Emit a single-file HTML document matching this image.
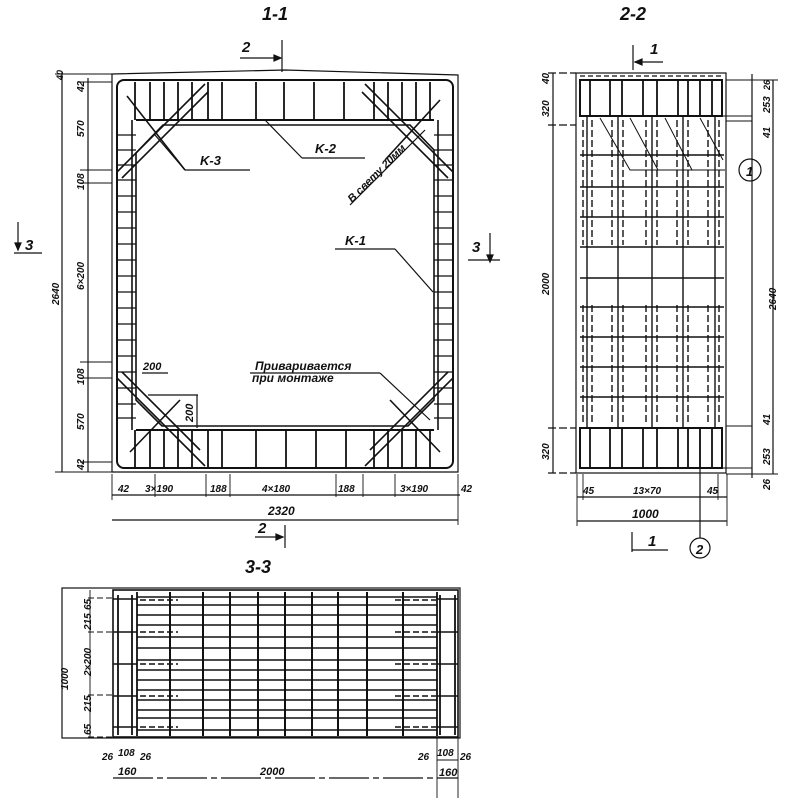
<!DOCTYPE html>
<html><head><meta charset="utf-8"><style>
html,body{margin:0;padding:0;background:#fff;}
svg{display:block;}
text{font-family:"Liberation Sans",sans-serif;font-style:italic;font-weight:bold;fill:#111;}
</style></head><body>
<svg width="800" height="800" viewBox="0 0 800 800" xmlns="http://www.w3.org/2000/svg">
<g stroke="#111" fill="none" stroke-width="1.2">
<!-- ===== Section 1-1 ===== -->
<text x="262" y="20" font-size="18" stroke="none">1-1</text>
<text x="242" y="52" font-size="15" stroke="none">2</text>
<line x1="240" y1="58" x2="280" y2="58"/><path d="M274 55 L281 58 L274 61Z" fill="#111"/>
<line x1="282" y1="40" x2="282" y2="72"/>
<!-- outer frame -->
<path d="M112 74 L285 70 L458 75 L458 472 L112 472 Z"/>
<rect x="117" y="80" width="336" height="388" rx="7" stroke-width="2"/>
<!-- opening -->
<path d="M163 125 L410 125 L434 150 L434 400 L408 426 L162 426 L136 400 L136 153 Z" stroke-width="1.6"/>
<line x1="136" y1="120" x2="434" y2="120" stroke-width="2"/>
<line x1="136" y1="430" x2="434" y2="430" stroke-width="2"/>
<line x1="132" y1="120" x2="132" y2="430" stroke-width="1.6"/>
<line x1="438" y1="120" x2="438" y2="430" stroke-width="1.6"/>
<!-- top beam stirrups -->
<g stroke-width="1.8">
<line x1="135" y1="82" x2="135" y2="120"/><line x1="150" y1="82" x2="150" y2="120"/><line x1="164" y1="82" x2="164" y2="120"/><line x1="178" y1="82" x2="178" y2="120"/><line x1="192" y1="82" x2="192" y2="120"/><line x1="208" y1="82" x2="208" y2="120"/><line x1="222" y1="82" x2="222" y2="120"/><line x1="256" y1="82" x2="256" y2="120"/><line x1="284" y1="82" x2="284" y2="120"/><line x1="314" y1="82" x2="314" y2="120"/><line x1="344" y1="82" x2="344" y2="120"/><line x1="374" y1="82" x2="374" y2="120"/><line x1="388" y1="82" x2="388" y2="120"/><line x1="402" y1="82" x2="402" y2="120"/><line x1="416" y1="82" x2="416" y2="120"/><line x1="430" y1="82" x2="430" y2="120"/>
<!-- bottom beam stirrups -->
<line x1="135" y1="430" x2="135" y2="468"/><line x1="150" y1="430" x2="150" y2="468"/><line x1="164" y1="430" x2="164" y2="468"/><line x1="178" y1="430" x2="178" y2="468"/><line x1="192" y1="430" x2="192" y2="468"/><line x1="208" y1="430" x2="208" y2="468"/><line x1="222" y1="430" x2="222" y2="468"/><line x1="256" y1="430" x2="256" y2="468"/><line x1="286" y1="430" x2="286" y2="468"/><line x1="316" y1="430" x2="316" y2="468"/><line x1="346" y1="430" x2="346" y2="468"/><line x1="374" y1="430" x2="374" y2="468"/><line x1="388" y1="430" x2="388" y2="468"/><line x1="402" y1="430" x2="402" y2="468"/><line x1="416" y1="430" x2="416" y2="468"/><line x1="430" y1="430" x2="430" y2="468"/>
</g>
<!-- column ties -->
<g stroke-width="1.2">
<path d="M117 135H136M117 150H136M117 165H136M117 180H136M117 196H136M117 212H136M117 228H136M117 244H136M117 260H136M117 276H136M117 292H136M117 308H136M117 324H136M117 340H136M117 356H136M117 372H136M117 388H136M117 404H136M117 418H136"/>
<path d="M434 135H453M434 150H453M434 165H453M434 180H453M434 196H453M434 212H453M434 228H453M434 244H453M434 260H453M434 276H453M434 292H453M434 308H453M434 324H453M434 340H453M434 356H453M434 372H453M434 388H453M434 404H453M434 418H453"/>
</g>
<!-- corner diagonals -->
<g stroke-width="1.6">
<line x1="117" y1="172" x2="205" y2="84"/><line x1="122" y1="178" x2="208" y2="92"/>
<line x1="127" y1="96" x2="185" y2="170"/>
<line x1="453" y1="172" x2="365" y2="84"/><line x1="448" y1="178" x2="362" y2="92"/>
<line x1="440" y1="100" x2="385" y2="160"/>
<line x1="117" y1="378" x2="205" y2="466"/><line x1="122" y1="372" x2="200" y2="450"/>
<line x1="130" y1="452" x2="180" y2="400"/>
<line x1="453" y1="378" x2="365" y2="466"/><line x1="448" y1="372" x2="370" y2="450"/>
<line x1="440" y1="452" x2="390" y2="400"/>
</g>
<!-- leaders -->
<line x1="155" y1="135" x2="185" y2="170"/><line x1="185" y1="170" x2="250" y2="170"/>
<text x="200" y="165" font-size="13" stroke="none">K-3</text>
<line x1="265" y1="120" x2="302" y2="158"/><line x1="302" y1="158" x2="365" y2="158"/>
<text x="315" y="153" font-size="13" stroke="none">K-2</text>
<line x1="350" y1="205" x2="425" y2="130"/>
<text x="0" y="0" font-size="11" stroke="none" transform="translate(352,203) rotate(-45)">В свету 20мм</text>
<line x1="335" y1="249" x2="395" y2="249"/><line x1="395" y1="249" x2="433" y2="292"/>
<text x="345" y="245" font-size="13" stroke="none">K-1</text>
<text x="255" y="370" font-size="12" stroke="none">Приваривается</text>
<text x="252" y="382" font-size="12" stroke="none">при монтаже</text>
<line x1="250" y1="373" x2="380" y2="373"/><line x1="380" y1="373" x2="430" y2="420"/>
<text x="143" y="370" font-size="11" stroke="none">200</text>
<line x1="142" y1="373" x2="168" y2="373"/>
<line x1="148" y1="395" x2="198" y2="395"/><line x1="197" y1="395" x2="197" y2="428"/>
<text x="0" y="0" font-size="11" stroke="none" transform="translate(193,422) rotate(-90)">200</text>
<!-- left dims -->
<line x1="62" y1="72" x2="62" y2="472"/>
<line x1="88" y1="78" x2="88" y2="472"/>
<path d="M55 74H112M80 82H112M80 170H112M80 183H112M80 362H112M80 378H112M80 462H112M55 472H112" stroke-width="0.9"/>
<g font-size="10" stroke="none">
<text transform="translate(63,80) rotate(-90)" font-size="9">40</text>
<text transform="translate(84,92) rotate(-90)">42</text>
<text transform="translate(84,137) rotate(-90)">570</text>
<text transform="translate(84,190) rotate(-90)">108</text>
<text transform="translate(84,290) rotate(-90)">6×200</text>
<text transform="translate(84,385) rotate(-90)">108</text>
<text transform="translate(84,430) rotate(-90)">570</text>
<text transform="translate(84,470) rotate(-90)">42</text>
<text transform="translate(59,305) rotate(-90)">2640</text>
</g>
<!-- section 3 markers -->
<line x1="18" y1="222" x2="18" y2="250"/><path d="M15 243 L18 250 L21 243Z" fill="#111"/>
<line x1="14" y1="253" x2="42" y2="253"/><text x="25" y="250" font-size="15" stroke="none">3</text>
<line x1="490" y1="233" x2="490" y2="262"/><path d="M487 255 L490 262 L493 255Z" fill="#111"/>
<line x1="468" y1="260" x2="500" y2="260"/><text x="472" y="252" font-size="15" stroke="none">3</text>
<!-- bottom dims -->
<line x1="112" y1="495" x2="460" y2="495"/>
<path d="M112 474V500M155 474V497M206 474V497M230 474V497M336 474V497M363 474V497M395 474V497M458 474V525" stroke-width="0.9"/>
<g font-size="10" stroke="none">
<text x="118" y="492">42</text><text x="145" y="492">3×190</text><text x="210" y="492">188</text>
<text x="262" y="492">4×180</text><text x="338" y="492">188</text><text x="400" y="492">3×190</text><text x="461" y="492">42</text>
</g>
<line x1="112" y1="520" x2="458" y2="520"/>
<text x="268" y="515" font-size="12" stroke="none">2320</text>
<text x="258" y="533" font-size="15" stroke="none">2</text>
<line x1="255" y1="537" x2="283" y2="537"/><path d="M276 534 L283 537 L276 540Z" fill="#111"/>
<line x1="285" y1="525" x2="285" y2="548"/>

<!-- ===== Section 2-2 ===== -->
<text x="620" y="20" font-size="18" stroke="none">2-2</text>
<text x="650" y="54" font-size="15" stroke="none">1</text>
<line x1="633" y1="45" x2="633" y2="70"/><line x1="635" y1="62" x2="663" y2="62"/><path d="M642 59 L635 62 L642 65Z" fill="#111"/>
<rect x="576" y="73" width="150" height="400"/>
<line x1="580" y1="76" x2="724" y2="76" stroke-dasharray="5,3"/>
<rect x="580" y="80" width="142" height="36" stroke-width="2"/>
<rect x="580" y="428" width="142" height="40" stroke-width="2"/>
<path d="M590 80V116M610 80V116M622 80V116M643 80V116M657 80V116M678 80V116M688 80V116M700 80V116M712 80V116" stroke-width="1.8"/>
<path d="M590 428V468M610 428V468M622 428V468M643 428V468M657 428V468M678 428V468M688 428V468M700 428V468M712 428V468" stroke-width="1.8"/>
<path d="M580 155H724M580 187H724M580 217H724M580 247H724M580 278H724M580 307H724M580 337H724M580 367H724M580 397H724" stroke-width="1.6"/>
<path d="M587 117V427M618 117V427M652 117V427M683 117V427M715 117V427" stroke-width="1.4"/>
<g stroke-dasharray="7,3" stroke-width="1.4">
<path d="M583 120V245M592 120V245M612 120V245M623 120V245M646 120V245M657 120V245M677 120V245M688 120V245M708 120V245M719 120V245"/>
<path d="M583 305V425M592 305V425M612 305V425M623 305V425M646 305V425M657 305V425M677 305V425M688 305V425M708 305V425M719 305V425"/>
</g>
<path d="M600 118L630 170H725M630 118L658 170M665 118L692 170M700 118L723 160" stroke-width="1"/>
<circle cx="750" cy="170" r="11"/><text x="746" y="176" font-size="13" stroke="none">1</text>
<!-- left dims 2-2 -->
<line x1="553" y1="73" x2="553" y2="473"/>
<path d="M548 73H576M548 125H576M548 428H576M548 473H576" stroke-dasharray="8,3"/>
<g font-size="10" stroke="none">
<text transform="translate(549,84) rotate(-90)">40</text>
<text transform="translate(549,117) rotate(-90)">320</text>
<text transform="translate(549,295) rotate(-90)">2000</text>
<text transform="translate(549,460) rotate(-90)">320</text>
<text transform="translate(770,90) rotate(-90)" font-size="9">26</text>
<text transform="translate(770,113) rotate(-90)">253</text>
<text transform="translate(770,138) rotate(-90)">41</text>
<text transform="translate(770,425) rotate(-90)">41</text>
<text transform="translate(770,465) rotate(-90)">253</text>
<text transform="translate(770,490) rotate(-90)">26</text>
<text transform="translate(776,310) rotate(-90)">2640</text>
</g>
<line x1="752" y1="74" x2="752" y2="478"/>
<line x1="773" y1="80" x2="773" y2="474"/>
<path d="M726 80H778M722 116H752M726 121H752M726 426H752M722 468H752M726 474H778" stroke-width="0.9"/>
<!-- bottom dims 2-2 -->
<line x1="577" y1="497" x2="727" y2="497"/>
<line x1="577" y1="521" x2="727" y2="521"/>
<path d="M577 474V526M583 474V500M718 474V500M727 474V526" stroke-width="0.9"/>
<g font-size="10" stroke="none"><text x="583" y="494">45</text><text x="633" y="494">13×70</text><text x="707" y="494">45</text></g>
<text x="632" y="518" font-size="12" stroke="none">1000</text>
<line x1="632" y1="532" x2="632" y2="552"/><line x1="632" y1="550" x2="668" y2="550"/>
<text x="648" y="546" font-size="15" stroke="none">1</text>
<line x1="700" y1="430" x2="700" y2="538"/>
<circle cx="700" cy="548" r="10"/><text x="696" y="554" font-size="13" stroke="none">2</text>

<!-- ===== Section 3-3 ===== -->
<text x="245" y="573" font-size="18" stroke="none">3-3</text>
<rect x="62" y="588" width="398" height="150"/>
<rect x="113" y="590" width="345" height="147" stroke-width="1.6"/>
<path d="M118 595V735M132 595V735M137 592V736M440 595V735M455 595V735M437 592V736" stroke-width="1.8"/>
<path d="M113 599H137M113 632H137M113 664H137M113 696H137M113 727H137M437 599H458M437 632H458M437 664H458M437 696H458M437 727H458" stroke-width="1.4"/>
<path d="M137 597H437M137 605H437M137 615H437M137 625H437M137 637H437M137 648H437M137 660H437M137 670H437M137 680H437M137 690H437M137 700H437M137 710H437M137 718H437M137 730H437" stroke-width="1.5"/>
<path d="M170 592V736M203 592V736M230 592V736M258 592V736M285 592V736M312 592V736M338 592V736M367 592V736M403 592V736" stroke-width="2"/>
<g stroke-dasharray="6,3" stroke-width="1.5">
<path d="M140 600H178M140 632H178M140 664H178M140 696H178M140 727H178M395 600H436M395 632H436M395 664H436M395 696H436M395 727H436"/>
</g>
<path d="M88 598H113M88 632H113M88 695H113M88 737H113" stroke-dasharray="6,3" stroke-width="0.9"/>
<line x1="90" y1="590" x2="90" y2="738" stroke-width="0.9"/>
<g font-size="10" stroke="none">
<text transform="translate(68,690) rotate(-90)">1000</text>
<text transform="translate(91,610) rotate(-90)">65</text>
<text transform="translate(91,630) rotate(-90)">215</text>
<text transform="translate(91,676) rotate(-90)">2×200</text>
<text transform="translate(91,712) rotate(-90)">215</text>
<text transform="translate(91,735) rotate(-90)">65</text>
<text x="102" y="760">26</text><text x="118" y="756">108</text><text x="140" y="760">26</text>
<text x="418" y="760">26</text><text x="437" y="756">108</text><text x="460" y="760">26</text>
</g>
<line x1="113" y1="778" x2="458" y2="778" stroke-dasharray="40,4,6,4"/>
<path d="M437 738V798M458 738V798M437 760H458" stroke-width="0.9"/>
<g font-size="11" stroke="none"><text x="118" y="775">160</text><text x="260" y="775">2000</text><text x="439" y="776">160</text></g>
</g>
</svg>
</body></html>
